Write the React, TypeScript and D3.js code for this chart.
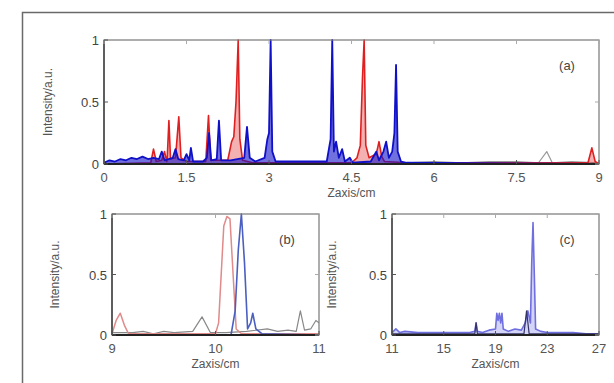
import * as d3 from "d3";
import { useEffect, useRef } from "react";

// panel (a): x in cm, y normalised intensity
const aRed: [number, number][] = [
  [0, 0], [0.85, 0.01], [0.9, 0.12], [0.95, 0.02], [1.05, 0.03], [1.1, 0.1], [1.14, 0.02],
  [1.15, 0.05], [1.18, 0.35], [1.21, 0.04], [1.3, 0.05], [1.36, 0.38], [1.4, 0.05], [1.5, 0.02],
  [1.85, 0.02], [1.9, 0.39], [1.94, 0.03], [2.25, 0.03], [2.32, 0.18], [2.36, 0.22], [2.4, 0.5],
  [2.44, 1.0], [2.47, 0.2], [2.52, 0.03], [2.7, 0.01], [4.5, 0.01], [4.6, 0.05], [4.66, 0.15],
  [4.7, 0.7], [4.73, 1.0], [4.76, 0.15], [4.82, 0.05], [4.95, 0.08], [5.0, 0.18], [5.05, 0.06],
  [5.1, 0.02], [5.5, 0.01], [8.8, 0.01], [8.87, 0.13], [8.93, 0.02], [9, 0],
];
const aBlue: [number, number][] = [
  [0, 0.01], [0.1, 0.03], [0.2, 0.02], [0.3, 0.04], [0.4, 0.03], [0.5, 0.05], [0.6, 0.04],
  [0.7, 0.06], [0.8, 0.04], [0.9, 0.05], [1.0, 0.04], [1.05, 0.1], [1.1, 0.03], [1.25, 0.05],
  [1.3, 0.12], [1.35, 0.04], [1.45, 0.03], [1.5, 0.08], [1.55, 0.03], [1.58, 0.13], [1.62, 0.02],
  [1.8, 0.02], [1.87, 0.05], [1.91, 0.25], [1.95, 0.03], [2.05, 0.04], [2.09, 0.35], [2.13, 0.03],
  [2.3, 0.03], [2.55, 0.05], [2.6, 0.3], [2.65, 0.05], [2.75, 0.02], [2.92, 0.05], [2.97, 0.2],
  [3.0, 0.25], [3.03, 1.0], [3.06, 0.1], [3.12, 0.02], [4.05, 0.02], [4.12, 0.2], [4.15, 1.0],
  [4.18, 0.1], [4.22, 0.18], [4.27, 0.05], [4.33, 0.12], [4.38, 0.02], [4.47, 0.05], [4.52, 0.01],
  [4.85, 0.02], [4.95, 0.1], [5.0, 0.03], [5.08, 0.1], [5.13, 0.18], [5.18, 0.05], [5.24, 0.1],
  [5.28, 0.25], [5.31, 0.8], [5.34, 0.1], [5.4, 0.02], [5.5, 0.01], [9, 0],
];
const aGray: [number, number][] = [
  [5.5, 0.01], [6, 0.02], [6.5, 0.01], [7, 0.02], [7.5, 0.02], [7.9, 0.01], [8.05, 0.1],
  [8.15, 0.01], [8.5, 0.02], [9, 0.01],
];

// panel (b)
const bRed: [number, number][] = [
  [9, 0.01], [9.04, 0.12], [9.08, 0.18], [9.12, 0.08], [9.16, 0.01], [9.9, 0.01], [10.0, 0.01],
  [10.03, 0.1], [10.08, 0.9], [10.11, 0.98], [10.14, 0.96], [10.17, 0.5], [10.2, 0.05],
  [10.25, 0.01], [11, 0.01],
];
const bBlue: [number, number][] = [
  [9, 0], [10.15, 0], [10.19, 0.2], [10.22, 0.7], [10.25, 1.0], [10.28, 0.6], [10.31, 0.05],
  [10.34, 0.1], [10.36, 0.18], [10.39, 0.05], [10.45, 0.01], [11, 0],
];
const bGray: [number, number][] = [
  [9, 0.02], [9.2, 0.02], [9.3, 0.03], [9.4, 0.01], [9.5, 0.03], [9.6, 0.02], [9.78, 0.03],
  [9.87, 0.15], [9.95, 0.02], [10.1, 0.02], [10.3, 0.03], [10.5, 0.05], [10.6, 0.03], [10.7, 0.04],
  [10.78, 0.03], [10.82, 0.2], [10.86, 0.04], [10.92, 0.05], [10.97, 0.12], [11, 0.1],
];

// panel (c)
const cBlue: [number, number][] = [
  [11, 0.02], [11.3, 0.05], [11.6, 0.02], [12, 0.03], [13, 0.02], [14, 0.02], [15, 0.02],
  [16, 0.02], [17, 0.02], [17.4, 0.03], [17.5, 0.1], [17.6, 0.03], [18, 0.02], [18.5, 0.04],
  [19.0, 0.05], [19.1, 0.18], [19.2, 0.12], [19.3, 0.18], [19.4, 0.1], [19.5, 0.18], [19.6, 0.05],
  [20, 0.03], [20.5, 0.05], [21, 0.04], [21.3, 0.1], [21.5, 0.2], [21.7, 0.1], [21.8, 0.6],
  [21.9, 0.93], [22.0, 0.5], [22.1, 0.05], [22.5, 0.03], [23, 0.02], [24, 0.02], [25, 0.02],
  [26, 0.01], [27, 0.01],
];
const cDark: [number, number][] = [
  [11, 0.01], [17.4, 0.01], [17.5, 0.1], [17.6, 0.01], [21.2, 0.01], [21.4, 0.2], [21.6, 0.01],
  [27, 0.01],
];

const aTicks = [0, 1.5, 3, 4.5, 6, 7.5, 9];
const bTicks = [9, 10, 11];
const cTicks = [11, 15, 19, 23, 27];
const yTicks = [0, 0.5, 1];

type Series = { data: [number, number][]; color: string; width: number; fill: number };
type Panel = {
  id: string; left: number; top: number; w: number; h: number; titleOff: number;
  xDomain: [number, number]; xTicks: number[]; label: string; series: Series[];
};

const panels: Panel[] = [
  {
    id: "a", left: 104, top: 40, w: 495, h: 124, titleOff: -52, xDomain: [0, 9], xTicks: aTicks, label: "(a)",
    series: [
      { data: aGray, color: "#999999", width: 1.2, fill: 0 },
      { data: aRed, color: "#e02020", width: 1.6, fill: 0.35 },
      { data: aBlue, color: "#1010c8", width: 1.8, fill: 0.6 },
    ],
  },
  {
    id: "b", left: 112, top: 214, w: 207, h: 121, titleOff: -53, xDomain: [9, 11], xTicks: bTicks, label: "(b)",
    series: [
      { data: bGray, color: "#888888", width: 1.2, fill: 0 },
      { data: bRed, color: "#e08a8a", width: 1.5, fill: 0 },
      { data: bBlue, color: "#4a5fc0", width: 1.6, fill: 0 },
    ],
  },
  {
    id: "c", left: 392, top: 214, w: 207, h: 121, titleOff: -56, xDomain: [11, 27], xTicks: cTicks, label: "(c)",
    series: [
      { data: cBlue, color: "#6f6fe0", width: 1.6, fill: 0.3 },
      { data: cDark, color: "#333366", width: 1.2, fill: 0 },
    ],
  },
];

export default function App() {
  const ref = useRef<SVGSVGElement>(null);

  useEffect(() => {
    const svg = d3.select(ref.current);
    svg.selectAll("*").remove();

    // outer frame
    svg.append("rect")
      .attr("x", 22.5).attr("y", 12.5)
      .attr("width", 640).attr("height", 420)
      .attr("fill", "none").attr("stroke", "#6a6a6a").attr("stroke-width", 1.5);

    const fmt = d3.format("~g");

    panels.forEach((p) => {
      const x = d3.scaleLinear().domain(p.xDomain).range([0, p.w]);
      const y = d3.scaleLinear().domain([0, 1]).range([p.h, 0]);
      const g = svg.append("g").attr("transform", `translate(${p.left},${p.top})`);

      g.append("clipPath").attr("id", `clip-${p.id}`)
        .append("rect").attr("x", 0).attr("y", -1).attr("width", p.w).attr("height", p.h + 1);

      const line = d3.line<[number, number]>().x((d) => x(d[0])).y((d) => y(d[1]));
      const area = d3.area<[number, number]>().x((d) => x(d[0])).y0(y(0)).y1((d) => y(d[1]));
      p.series.forEach((s) => {
        if (s.fill > 0) {
          g.append("path")
            .attr("clip-path", `url(#clip-${p.id})`)
            .attr("d", area(s.data))
            .attr("fill", s.color)
            .attr("fill-opacity", s.fill);
        }
        g.append("path")
          .attr("clip-path", `url(#clip-${p.id})`)
          .attr("d", line(s.data))
          .attr("fill", "none")
          .attr("stroke", s.color)
          .attr("stroke-width", s.width)
          .attr("stroke-linejoin", "round");
      });

      // box
      g.append("rect").attr("width", p.w).attr("height", p.h)
        .attr("fill", "none").attr("stroke", "#777").attr("stroke-width", 1.2);
      g.append("line").attr("x1", 0).attr("x2", p.w).attr("y1", p.h).attr("y2", p.h)
        .attr("stroke", "#222").attr("stroke-width", 2);
      g.append("line").attr("x1", 0).attr("x2", 0).attr("y1", 0).attr("y2", p.h)
        .attr("stroke", "#444").attr("stroke-width", 1.5);

      // x ticks (inward, both sides)
      p.xTicks.forEach((t) => {
        g.append("line").attr("x1", x(t)).attr("x2", x(t)).attr("y1", p.h).attr("y2", p.h - 4)
          .attr("stroke", "#555");
        g.append("line").attr("x1", x(t)).attr("x2", x(t)).attr("y1", 0).attr("y2", 4)
          .attr("stroke", "#aaa");
        g.append("text").attr("x", x(t)).attr("y", p.h + 18)
          .attr("text-anchor", "middle").attr("font-size", 13)
          .attr("fill", "#555").text(fmt(t));
      });
      yTicks.forEach((t) => {
        g.append("line").attr("x1", 0).attr("x2", 4).attr("y1", y(t)).attr("y2", y(t))
          .attr("stroke", "#555");
        g.append("line").attr("x1", p.w).attr("x2", p.w - 4).attr("y1", y(t)).attr("y2", y(t))
          .attr("stroke", "#aaa");
        g.append("text").attr("x", -5).attr("y", y(t) + 5)
          .attr("text-anchor", "end").attr("font-size", 13)
          .attr("fill", "#444").text(fmt(t));
      });

      g.append("text").attr("x", p.w - 32).attr("y", 30)
        .attr("text-anchor", "middle").attr("font-size", 13).attr("fill", "#444")
        .text(p.label);

      g.append("text")
        .attr("transform", `translate(${p.titleOff},${p.h / 2}) rotate(-90)`)
        .attr("text-anchor", "middle").attr("font-size", 12).attr("fill", "#555")
        .text("Intensity/a.u.");

      g.append("text").attr("x", p.w / 2).attr("y", p.h + 33)
        .attr("text-anchor", "middle").attr("font-size", 12).attr("fill", "#555")
        .text("Zaxis/cm");
    });
  }, []);

  return (
    <svg
      ref={ref}
      width={614}
      height={383}
      style={{ position: "absolute", left: 0, top: 0, fontFamily: "Liberation Sans, Arial, sans-serif", background: "#fff" }}
    />
  );
}
